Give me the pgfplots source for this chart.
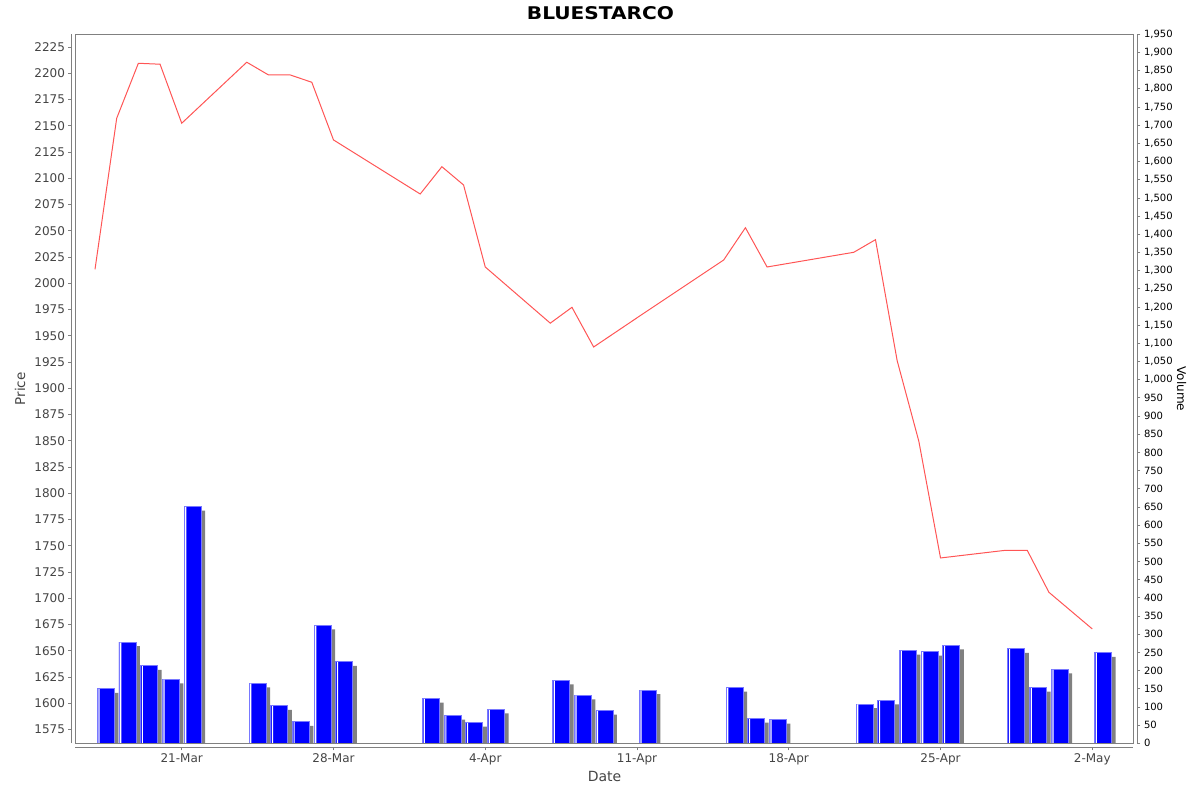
\documentclass[border=0pt]{standalone}
\usepackage{fontspec}
\setmainfont{DejaVu Sans}
\newfontfamily\titlefont[FakeStretch=1.15]{DejaVu Sans}
\usepackage{pgfplots}
\pgfplotsset{compat=1.18}
\usepackage{pgfplotstable}

\definecolor{pricered}{RGB}{255,85,85}
\definecolor{volblue}{RGB}{0,0,255}
\definecolor{voledge}{RGB}{120,120,255}
\definecolor{framegray}{RGB}{128,128,128}
\definecolor{ticktext}{RGB}{68,68,68}

% d = days after 17-Mar
\pgfplotstableread{
d  price   vol
0  2013.3  150
1  2157.1  278
2  2209.5  213
3  2208.6  176
4  2152.4  651
7  2210.5  165
8  2198.4  103
9  2198.4  59
10 2191.4  324
11 2136.5  224
15 2085.0  123
16 2111.0  76
17 2093.6  57
18 2015.5  93
21 1962.0  173
22 1977.1  132
23 1939.3  90
25 1967.1  146
29 2022.2  153
30 2052.9  68
31 2015.5  65
35 2029.5  108
36 2041.5  118
37 1926.3  255
38 1849.5  252
39 1738.4  269
42 1745.7  260
43 1745.7  153
44 1705.7  203
46 1670.8  249
}\stock

\pgfplotsset{
  base/.style={width=1058pt, height=709pt, scale only axis,
    xmin=-0.9, xmax=47.9, enlargelimits=false},
  ticks out/.style={tick align=outside, major tick length=3pt,
    tick style={draw=framegray, line width=0.8pt},
    axis line style={draw=framegray, line width=0.8pt, -}},
}

\begin{document}
\begin{tikzpicture}
% volume bars
\begin{axis}[base, name=main, ymin=0, ymax=1950, hide axis, ybar, bar width=17pt]
  \addplot[fill=framegray, draw=none, bar shift=14.8pt]
    table[x=d, y expr=\thisrow{vol}-11] {\stock};
  \addplot[fill=volblue, draw=voledge, line width=0.8pt, bar shift=10.8pt]
    table[x=d, y=vol] {\stock};
  \addplot[fill=white, draw=none, bar width=1.2pt, bar shift=4pt]
    table[x=d, y expr=\thisrow{vol}-1] {\stock};
\end{axis}

% price line and frame
\begin{axis}[base, ymin=1561.9, ymax=2237.1,
  axis line style={draw=framegray, line width=0.8pt},
  xtick=\empty, ytick=\empty,
  title={BLUESTARCO},
  title style={at={(axis description cs:0,1)}, anchor=base, xshift=525pt, yshift=9pt,
    font=\titlefont\bfseries\fontsize{17.5}{17.5}\selectfont}]
  \addplot[pricered, line width=1pt] table[x=d, y=price] {\stock};
\end{axis}

% price axis
\begin{axis}[base, xshift=-4pt, ymin=1561.9, ymax=2237.1,
  axis y line*=left, hide x axis, ticks out,
  ytick={1575,1600,...,2225},
  yticklabel style={font=\fontsize{12}{12}\selectfont, text=ticktext,
    /pgf/number format/1000 sep={}},
  /pgf/number format/assume math mode=true,
  ylabel={Price},
  ylabel style={at={(axis description cs:-0.0487,0.5)}, anchor=center,
    font=\fontsize{13.5}{13.5}\selectfont, text=ticktext}]
\end{axis}

% volume axis
\begin{axis}[base, xshift=4pt, ymin=0, ymax=1950,
  axis y line*=right, hide x axis, ticks out,
  ytick={0,50,...,1950},
  yticklabel style={font=\fontsize{10}{10}\selectfont, text=black,
    /pgf/number format/1000 sep={,}},
  /pgf/number format/assume math mode=true,
  ylabel={Volume},
  ylabel style={at={(axis description cs:1.0416,0.5)}, anchor=center, rotate=180,
    font=\fontsize{12}{12}\selectfont, text=black}]
\end{axis}

% date axis
\begin{axis}[base, yshift=-4pt, ymin=0, ymax=1,
  axis x line*=bottom, hide y axis, ticks out,
  xtick={4,11,18,25,32,39,46},
  xticklabels={21-Mar,28-Mar,4-Apr,11-Apr,18-Apr,25-Apr,2-May},
  xticklabel style={font=\fontsize{12}{12}\selectfont, text=ticktext},
  xlabel={Date},
  xlabel style={at={(axis description cs:0.5,-0.0409)}, anchor=center,
    font=\fontsize{14}{14}\selectfont, text=ticktext}]
\end{axis}

\pgfresetboundingbox
\path[use as bounding box] (-75.5pt,-48.7pt) rectangle (1124.5pt,743.3pt);
\end{tikzpicture}
\end{document}
